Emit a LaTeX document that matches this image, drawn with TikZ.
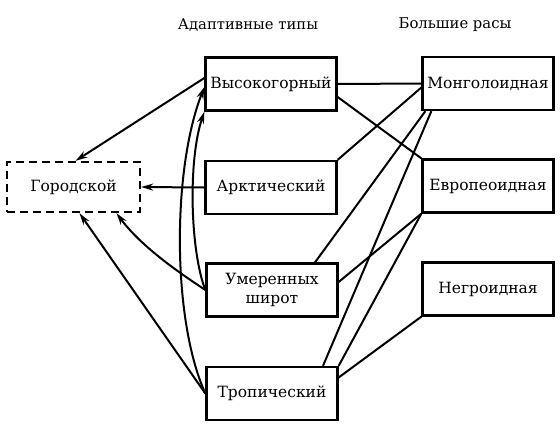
\documentclass[tikz,border=0pt]{standalone}
\usepackage{fontspec}
\setmainfont{DejaVu Serif}
\usetikzlibrary{arrows.meta}
\begin{document}
\begin{tikzpicture}[x=1pt,y=-1pt,
  box/.style={draw, line width=2.3pt, minimum width=131pt, minimum height=53pt, inner sep=0pt,
    font=\fontsize{15.5}{18.5}\selectfont, align=center},
  dbox/.style={box, dashed, dash pattern=on 8pt off 5pt, minimum width=133pt, minimum height=50pt},
  hdr/.style={font=\fontsize{14.8}{18}\selectfont, inner sep=0pt},
  link/.style={line width=2pt},
  arr/.style={link, -{Stealth[length=12pt,width=7pt]}}]
\useasboundingbox (0,0) rectangle (560,424);
\node[hdr] (hdrA) at (248,25) {Адаптивные типы};
\node[hdr] (hdrB) at (455,25) {Большие расы};
\node[box] (vys) at (271,84) {Высокогорный};
\node[box] (arc) at (271,187.5) {Арктический};
\node[box] (umer) at (272,290) {Умеренных\\широт};
\node[box] (trop) at (272,393.5) {Тропический};
\node[box] (mong) at (488,83.5) {Монголоидная};
\node[box] (evr) at (488,186) {Европеоидная};
\node[box] (negr) at (488,289) {Негроидная};
\node[dbox] (gor) at (73.5,187) {Городской};
% arrows to Gorodskoy
\draw[arr] ([yshift=6pt]vys.west) -- ([xshift=2pt]gor.north);
\draw[arr] (arc.west) -- (gor.east);
\draw[arr] (umer.west) .. controls (175,270) and (140,245) .. ([xshift=43pt]gor.south);
\draw[arr] (trop.west) -- ([xshift=6pt]gor.south);
% arrows up to Vysokogorny
\draw[arr] (trop.west) .. controls (172,320) and (172,170) .. ([yshift=-3pt]vys.west);
\draw[arr] (umer.west) .. controls (190,250) and (188,160) .. (vys.south west);
% links to races
\draw[link] (vys.east) -- (mong.west);
\draw[link] ([yshift=-13pt]vys.east) -- (evr.north west);
\draw[link] (arc.north east) -- ([yshift=-4pt]mong.west);
\draw[link] ([xshift=4pt]mong.south west) -- ([xshift=43pt]umer.north);
\draw[link] ([xshift=10pt]mong.south west) -- ([xshift=51pt]trop.north);
\draw[link] (evr.south west) -- ([yshift=8pt]umer.east);
\draw[link] (evr.south west) -- (trop.north east);
\draw[link] (negr.south west) -- ([yshift=16pt]trop.east);
\end{tikzpicture}
\end{document}
